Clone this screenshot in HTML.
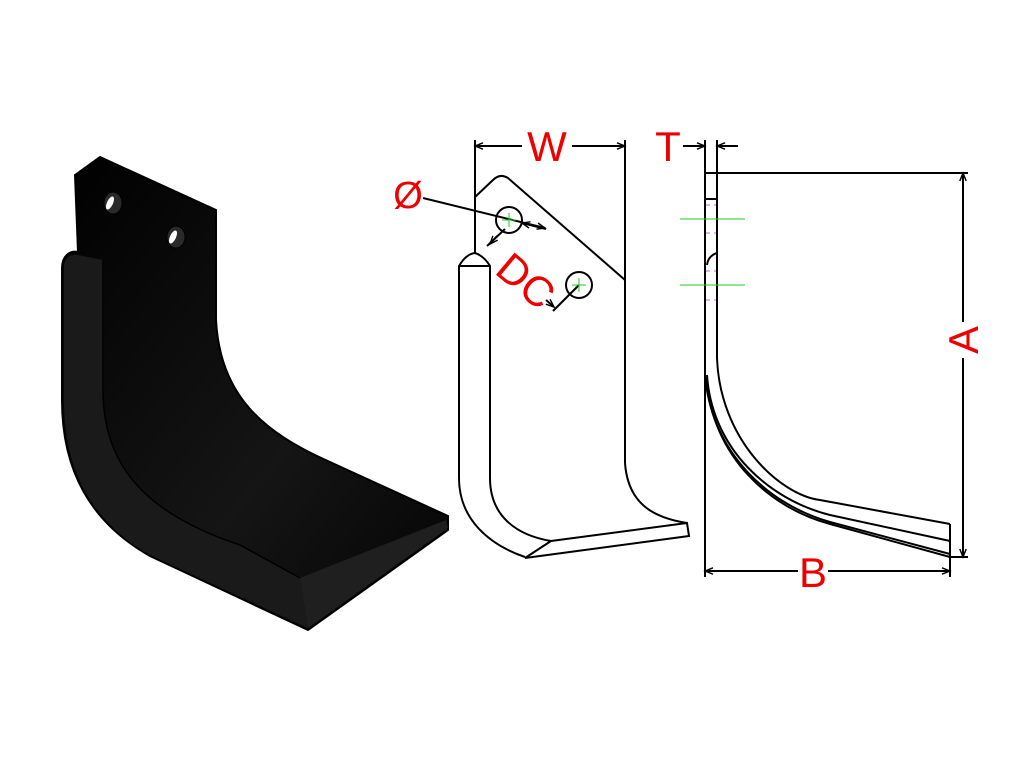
<!DOCTYPE html>
<html><head><meta charset="utf-8"><style>html,body{margin:0;padding:0;background:#fff}svg{display:block}</style></head>
<body>
<svg width="1024" height="768" viewBox="0 0 1024 768" xmlns="http://www.w3.org/2000/svg">
<defs>
<linearGradient id="g1" x1="0" y1="0" x2="1" y2="1">
<stop offset="0" stop-color="#000"/><stop offset="0.6" stop-color="#151515"/><stop offset="1" stop-color="#030303"/>
</linearGradient>
<marker id="ar" viewBox="0 0 10 10" refX="10" refY="5" markerWidth="11" markerHeight="8" orient="auto-start-reverse" markerUnits="userSpaceOnUse"><path d="M0,1 L10,5 L0,9" fill="none" stroke="#000" stroke-width="1.8"/></marker>
</defs>
<!-- black blade -->
<path d="M75,175 L100,157 L216,210 L216,320 C220,395 262,432 330,462 L448,516 L448,530 L308,630 L150,556 C90,522 62,470 62,400 L62,268 C62,256 70,250 78,252 Z" fill="url(#g1)" stroke="#000" stroke-width="2"/>
<path d="M64,268 C64,258 70,254 78,255 L103,260 L103,395 C105,470 150,515 240,545 L300,578 L308,628 L150,555 C92,522 64,470 64,400 Z" fill="#1a1a1a"/>
<path d="M103,260 L103,395 C105,470 150,515 240,545 L300,578" fill="none" stroke="#000" stroke-width="1.5"/>
<path d="M300,578 L308,628 L448,528 L446,520 Z" fill="#1f1f1f"/>
<ellipse cx="113" cy="203" rx="9" ry="11" fill="#2a2a2a" stroke="#000"/>
<ellipse cx="110" cy="203" rx="3" ry="7" fill="#fff" transform="rotate(25 110 203)"/>
<ellipse cx="176" cy="237" rx="9" ry="11" fill="#2a2a2a" stroke="#000"/>
<ellipse cx="173" cy="237" rx="3" ry="7" fill="#fff" transform="rotate(25 173 237)"/>

<g fill="none" stroke="#000" stroke-width="2">
<!-- middle view -->
<line x1="475" y1="140" x2="475" y2="253"/>
<line x1="625" y1="140" x2="625" y2="463"/>
<path d="M475,197 L493,180 Q500,173 508,178 L625,280"/>
<path d="M459,478 L459,266 Q466,254 475,253 Q484,256 490,266 L490,478"/>
<line x1="459" y1="266" x2="490" y2="266"/>
<path d="M459,478 C459,520 490,545 525,557"/>
<path d="M490,478 C490,515 515,535 551,541"/>
<path d="M625,463 C628,505 655,518 687,523"/>
<path d="M551,541 L687,523 L689,536 L525,558 Z"/>
<circle cx="509" cy="220" r="13"/>
<circle cx="579" cy="285" r="13"/>
<line x1="423" y1="198" x2="545" y2="228" marker-end="url(#ar)"/>
<line x1="546" y1="229" x2="522" y2="223" marker-end="url(#ar)"/>
<line x1="505" y1="229" x2="487" y2="246"/>
<line x1="497" y1="236" x2="490" y2="244" marker-end="url(#ar)"/>
<line x1="579" y1="285" x2="553" y2="311"/>
<line x1="546" y1="300" x2="554" y2="307" marker-end="url(#ar)"/>
<line x1="475" y1="146" x2="522" y2="146" marker-start="url(#ar)"/>
<line x1="572" y1="146" x2="625" y2="146" marker-end="url(#ar)"/>
<!-- right view -->
<line x1="705" y1="140" x2="705" y2="577"/>
<line x1="717" y1="140" x2="717" y2="173"/>
<line x1="705" y1="173" x2="968" y2="173"/>
<line x1="705" y1="199" x2="717" y2="199"/>
<path d="M717,173 L717,253 Q708,256 707,265"/>
<line x1="717" y1="253" x2="717" y2="358"/>
<path d="M717,358 C720,440 780,495 820,500 L950,524"/>
<path d="M707,375 C712,450 770,500 830,515 L950,541"/>
<path d="M705,375 C712,455 770,505 830,522 L950,554"/>
<path d="M706,378 C713,458 770,508 830,524 L950,557"/>
<line x1="950" y1="524" x2="950" y2="577"/>
<line x1="950" y1="557" x2="968" y2="557"/>
<line x1="963" y1="173" x2="963" y2="322" marker-start="url(#ar)"/>
<line x1="963" y1="358" x2="963" y2="557" marker-end="url(#ar)"/>
<line x1="705" y1="571" x2="798" y2="571" marker-start="url(#ar)"/>
<line x1="828" y1="571" x2="950" y2="571" marker-end="url(#ar)"/>
<line x1="683" y1="146" x2="705" y2="146" marker-end="url(#ar)"/>
<line x1="738" y1="146" x2="717" y2="146" marker-end="url(#ar)"/>
</g>
<g stroke="#2c2" stroke-width="1">
<line x1="680" y1="219" x2="745" y2="219"/><line x1="680" y1="285" x2="745" y2="285"/>
<line x1="502" y1="220" x2="516" y2="220"/><line x1="509" y1="213" x2="509" y2="227"/>
<line x1="572" y1="285" x2="586" y2="285"/><line x1="579" y1="278" x2="579" y2="292"/>
</g>
<g stroke="#c6c" stroke-width="1" stroke-dasharray="4,4">
<line x1="706" y1="205" x2="716" y2="205"/><line x1="706" y1="233" x2="716" y2="233"/>
<line x1="706" y1="271" x2="716" y2="271"/><line x1="706" y1="300" x2="716" y2="300"/>
</g>
<g fill="#e00" font-family="Liberation Sans, sans-serif">
<text x="547" y="161" font-size="42" text-anchor="middle">W</text>
<text x="668" y="161" font-size="42" text-anchor="middle">T</text>
<text x="408" y="208" font-size="38" text-anchor="middle">Ø</text>
<text x="525" y="295" font-size="42" text-anchor="middle" transform="rotate(40 525 282)">DC</text>
<text x="963" y="340" font-size="42" text-anchor="middle" transform="rotate(-90 963 340)" dy="15">A</text>
<text x="813" y="587" font-size="42" text-anchor="middle">B</text>
</g>
</svg>
</body></html>
